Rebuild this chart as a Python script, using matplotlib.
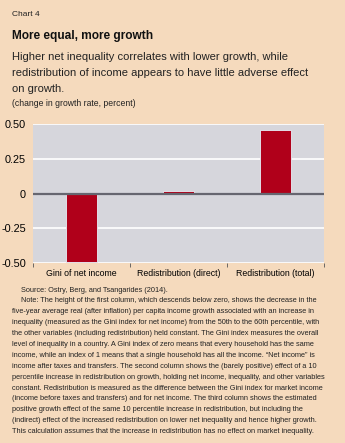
import matplotlib.pyplot as plt

# Data
categories = ['Gini of net income', 'Redistribution (direct)', 'Redistribution (total)']
values = [-0.49, 0.02, 0.46]
yticks = [-0.50, -0.25, 0, 0.25, 0.50]
ytick_labels = ['-0.50', '-0.25', '0', '0.25', '0.50']

bg = '#F5DABD'
panel = '#D6D6DC'
bar_color = '#B0001A'

plt.rcParams['font.family'] = ['Liberation Sans', 'DejaVu Sans']

fig = plt.figure(figsize=(3.45, 4.43), dpi=100, facecolor=bg)
W, H = 345, 443

def fx(x):
    return x / W

def fy(y):
    return 1 - y / H

# Header texts
fig.text(fx(12), fy(15), 'Chart 4', fontsize=6.0, va='center', color='#222222')
fig.text(fx(12), fy(36), 'More equal, more growth', fontsize=8.6, fontweight='bold',
         va='center', color='#111111')
subtitle = ['Higher net inequality correlates with lower growth, while',
            'redistribution of income appears to have little adverse effect',
            'on growth.']
for i, line in enumerate(subtitle):
    fig.text(fx(12), fy(57 + 16 * i), line, fontsize=8.0, va='center', color='#222222')
fig.text(fx(12), fy(104), '(change in growth rate, percent)', fontsize=6.2,
         va='center', color='#222222')

# Chart panel
ax = fig.add_axes([fx(33), fy(263), fx(324 - 33), (263 - 124) / H])
ax.set_facecolor(panel)
x = list(range(len(categories)))
ax.bar(x, values, width=0.32, color=bar_color, edgecolor='#E8F0F8', linewidth=0.6, zorder=3)
ax.set_xlim(-0.5, 2.5)
ax.set_ylim(-0.5, 0.5)
ax.set_yticks(yticks)
ax.set_yticklabels(ytick_labels, fontsize=7.8)
ax.yaxis.grid(True, color='white', linewidth=1.2, zorder=0)
ax.axhline(0, color='#666670', linewidth=1.6, zorder=4)
ax.set_xticks(x)
ax.set_xticklabels(categories, fontsize=6.3)
ax.tick_params(axis='x', length=0, pad=4)
ax.tick_params(axis='y', length=0, pad=5)
ax.set_xticks([-0.5, 0.5, 1.5, 2.5], minor=True)
ax.tick_params(axis='x', which='minor', length=3, direction='out', color='#555555')
for s in ax.spines.values():
    s.set_visible(False)

# Source and note
note = [
    'Source: Ostry, Berg, and Tsangarides (2014).',
    'Note: The height of the first column, which descends below zero, shows the decrease in the',
    'five-year average real (after inflation) per capita income growth associated with an increase in',
    'inequality (measured as the Gini index for net income) from the 50th to the 60th percentile, with',
    'the other variables (including redistribution) held constant. The Gini index measures the overall',
    'level of inequality in a country. A Gini index of zero means that every household has the same',
    'income, while an index of 1 means that a single household has all the income. \u201cNet income\u201d is',
    'income after taxes and transfers. The second column shows the (barely positive) effect of a 10',
    'percentile increase in redistribution on growth, holding net income, inequality, and other variables',
    'constant. Redistribution is measured as the difference between the Gini index for market income',
    '(income before taxes and transfers) and for net income. The third column shows the estimated',
    'positive growth effect of the same 10 percentile increase in redistribution, but including the',
    '(indirect) effect of the increased redistribution on lower net inequality and hence higher growth.',
    'This calculation assumes that the increase in redistribution has no effect on market inequality.',
]
for i, line in enumerate(note):
    xpos = 21 if i < 2 else 12
    fig.text(fx(xpos), fy(290 + 10.9 * i), line, fontsize=5.3, va='center', color='#222222')

fig.savefig('out.png', dpi=100, facecolor=bg)
